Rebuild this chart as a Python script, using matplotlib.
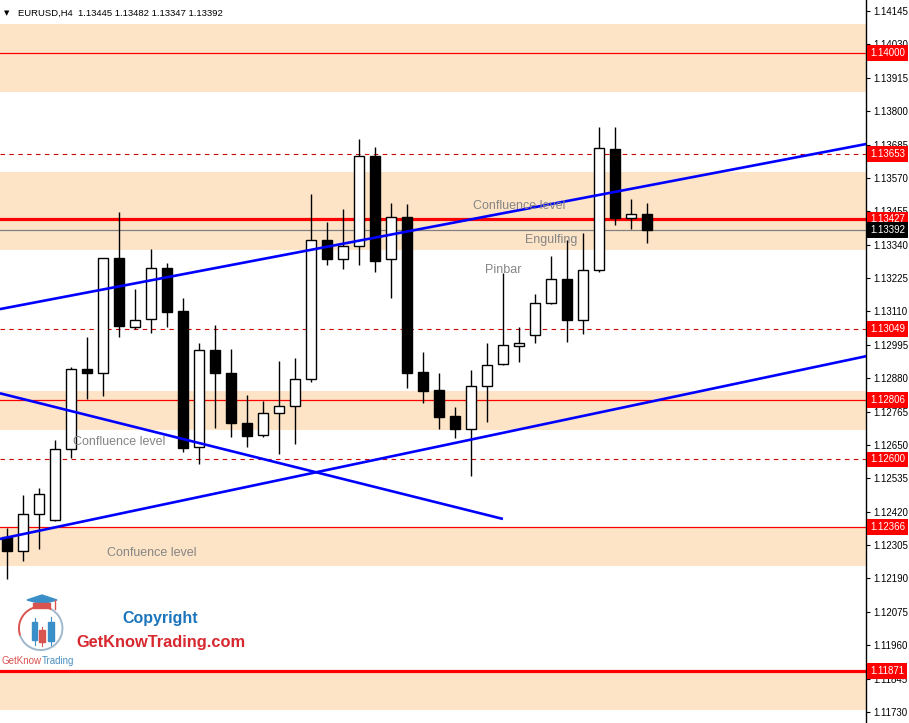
import matplotlib.pyplot as plt
import matplotlib.patches as mpatches
import numpy as np

# EURUSD H4 candles
opens = [1.12332, 1.12286, 1.12411, 1.12390, 1.12635, 1.12911, 1.12897, 1.13293, 1.13057, 1.13084,
         1.13259, 1.13111, 1.12642, 1.12976, 1.12897, 1.12725, 1.12683, 1.12759, 1.12783, 1.12876,
         1.13355, 1.13290, 1.13334, 1.13644, 1.13290, 1.13434, 1.12900, 1.12839, 1.12750, 1.12704,
         1.12852, 1.12928, 1.12990, 1.13028, 1.13138, 1.13221, 1.13082, 1.13252, 1.13669, 1.13433,
         1.13445]
highs = [1.12364, 1.12478, 1.12501, 1.12667, 1.12920, 1.13023, 1.13293, 1.13454, 1.13187, 1.13325,
         1.13278, 1.13155, 1.13000, 1.13063, 1.12981, 1.12822, 1.12801, 1.12940, 1.12949, 1.13515,
         1.13417, 1.13463, 1.13704, 1.13676, 1.13484, 1.13480, 1.12970, 1.12899, 1.12781, 1.12908,
         1.13001, 1.13241, 1.13056, 1.13170, 1.13301, 1.13356, 1.13380, 1.13746, 1.13746, 1.13497,
         1.13482]
lows = [1.12188, 1.12251, 1.12293, 1.12388, 1.12606, 1.12807, 1.12820, 1.13021, 1.13048, 1.13035,
        1.13057, 1.12625, 1.12583, 1.12709, 1.12679, 1.12644, 1.12676, 1.12618, 1.12652, 1.12868,
        1.13271, 1.13257, 1.13271, 1.13247, 1.13157, 1.12847, 1.12796, 1.12704, 1.12675, 1.12543,
        1.12730, 1.12924, 1.12937, 1.13002, 1.13136, 1.13003, 1.13033, 1.13247, 1.13408, 1.13394,
        1.13347]
closes = [1.12286, 1.12412, 1.12480, 1.12635, 1.12911, 1.12899, 1.13293, 1.13061, 1.13079, 1.13259,
          1.13109, 1.12638, 1.12976, 1.12897, 1.12725, 1.12682, 1.12759, 1.12783, 1.12877, 1.13355,
          1.13292, 1.13334, 1.13644, 1.13285, 1.13434, 1.12899, 1.12837, 1.12747, 1.12704, 1.12852,
          1.12924, 1.12994, 1.13000, 1.13138, 1.13221, 1.13082, 1.13252, 1.13672, 1.13433, 1.13445,
          1.13392]

# supply / demand zones (low, high)
zones = [(1.13866, 1.14100), (1.13322, 1.13590), (1.12702, 1.12836),
         (1.12234, 1.12366), (1.11737, 1.11871)]

# horizontal levels
solid_levels = [1.14000, 1.12806, 1.12366]
dashed_levels = [1.13653, 1.13049, 1.12600]
thick_levels = [1.13427, 1.11871]
bid_price = 1.13392

# trend lines (bar index, price)
upper_trend = ([-0.46, 53.7], [1.13118, 1.13687])
lower_trend = ([-0.46, 53.7], [1.12326, 1.12956])
down_trend = ([-0.46, 30.98], [1.12828, 1.12395])

tick_labels = ['1.14145', '1.14030', '1.13915', '1.13800', '1.13685', '1.13570', '1.13455',
               '1.13340', '1.13225', '1.13110', '1.12995', '1.12880', '1.12765', '1.12650',
               '1.12535', '1.12420', '1.12305', '1.12190', '1.12075', '1.11960', '1.11845',
               '1.11730']

red_labels = [1.14000, 1.13653, 1.13427, 1.13049, 1.12806, 1.12600, 1.12366, 1.11871]

fig = plt.figure(figsize=(9.09, 7.23), dpi=100)
ax = fig.add_axes([0, 0, 866 / 909, 1])
ax.set_xlim(-0.456, 53.67)
ax.set_ylim(1.11692, 1.14183)

zone_color = '#FDE4C7'
for lo, hi in zones:
    ax.axhspan(lo, hi, color=zone_color, lw=0, zorder=0)

for lv in solid_levels:
    ax.axhline(lv, color='red', lw=0.9, zorder=1)
for lv in dashed_levels:
    ax.axhline(lv, color='#d00000', lw=0.8, ls=(0, (4, 4)), zorder=1)
for lv in thick_levels:
    ax.axhline(lv, color='red', lw=2.3, zorder=1)
ax.axhline(bid_price, color='#808080', lw=0.9, zorder=1)

# candles
x = np.arange(len(opens))
for i in x:
    o, h, l, c = opens[i], highs[i], lows[i], closes[i]
    ax.vlines(i, l, h, color='black', lw=1.0, zorder=3)
    bottom = min(o, c)
    height = max(abs(c - o), 0.000012)
    face = 'black' if c < o else 'white'
    ax.bar(i, height, bottom=bottom, width=0.65, color=face, edgecolor='black',
           linewidth=1.0, zorder=4)

for tx, ty in (upper_trend, lower_trend, down_trend):
    ax.plot(tx, ty, color='#0000FF', lw=1.9, zorder=5, solid_capstyle='butt')

# annotations
txt_kw = dict(color='#858585', fontsize=9, family='Liberation Sans', ha='center', va='center', zorder=6)
ax.text(32.0, 1.13473, 'Confluence level', **txt_kw)
ax.text(34.0, 1.13356, 'Engulfing', **txt_kw)
ax.text(31.0, 1.13253, 'Pinbar', **txt_kw)
ax.text(6.98, 1.12660, 'Confluence level', **txt_kw)
ax.text(9.01, 1.12278, 'Confuence level', **txt_kw)

# axis look
ax.set_xticks([])
for s in ('top', 'left', 'bottom'):
    ax.spines[s].set_visible(False)
ax.spines['right'].set_color('black')
ax.spines['right'].set_linewidth(1.0)
ax.yaxis.tick_right()
ax.set_yticks([float(t) for t in tick_labels])
ax.set_yticklabels(tick_labels, family='Liberation Sans', fontsize=7)
ax.tick_params(axis='y', direction='out', length=3, width=0.8, pad=2, colors='black')

# price tags on the scale
ytrans = ax.get_yaxis_transform()
for lv in red_labels:
    ax.text(1.0 + 4 / 866, lv, f'{lv:.5f}', transform=ytrans, ha='left', va='center',
            color='white', fontsize=7, family='Liberation Sans', clip_on=False, zorder=10,
            bbox=dict(boxstyle='square,pad=0.3', fc='red', ec='none'))
ax.text(1.0 + 4 / 866, bid_price, f'{bid_price:.5f}', transform=ytrans, ha='left', va='center',
        color='white', fontsize=7, family='Liberation Sans', clip_on=False, zorder=10,
        bbox=dict(boxstyle='square,pad=0.3', fc='black', ec='none'))

# header
fig.text(4 / 909, 1 - 13 / 723, '\u25BC', fontsize=5, va='center', ha='left', color='black')
fig.text(18 / 909, 1 - 13 / 723, 'EURUSD,H4  1.13445 1.13482 1.13347 1.13392',
         fontsize=6.8, family='Liberation Sans', va='center', ha='left', color='black')

# logo (pixel coordinates)
lg = fig.add_axes([0, 1 - 672 / 723, 90 / 909, 87 / 723])
lg.set_xlim(0, 90)
lg.set_ylim(672, 585)
lg.axis('off')
lg.add_patch(mpatches.Arc((40.7, 628.3), 43.5, 43.5, theta1=-200, theta2=-60, color='#d9534f', lw=1.4))
lg.add_patch(mpatches.Arc((40.7, 628.3), 43.5, 43.5, theta1=-60, theta2=160, color='#9fb8cc', lw=1.4))
lg.add_patch(mpatches.Polygon([[27, 600], [42, 595], [57, 600], [42, 604]], color='#3b8fc8'))
lg.add_patch(mpatches.Rectangle((33, 603), 17, 5, color='#d9534f'))
lg.plot([55, 55], [600, 609], color='#d9534f', lw=1)
for bx, b0, b1, w0, w1, col in [(34.5, 622, 640, 618, 645, '#3b8fc8'),
                                 (42, 630, 642, 627, 646, '#d9534f'),
                                 (51, 622, 641, 617, 645, '#3b8fc8')]:
    lg.plot([bx, bx], [w0, w1], color=col, lw=0.8)
    lg.add_patch(mpatches.Rectangle((bx - 2.8, b0), 5.6, b1 - b0, color=col))
lg.text(2, 661, 'GetKnow', color='#d9534f', fontsize=7, family='Liberation Sans', va='center', ha='left')
lg.text(41.5, 661, 'Trading', color='#4a90c0', fontsize=7, family='Liberation Sans', va='center', ha='left')

fig.text(160.5 / 909, 1 - 619 / 723, 'Copyright', color='#1B75BC', fontsize=11.5, fontweight='bold',
         family='Liberation Sans', ha='center', va='center')
fig.text(160.5 / 909, 1 - 642 / 723, 'GetKnowTrading.com', color='#D7282F', fontsize=11.8, fontweight='bold',
         family='Liberation Sans', ha='center', va='center')

fig.savefig('out.png', dpi=100)
